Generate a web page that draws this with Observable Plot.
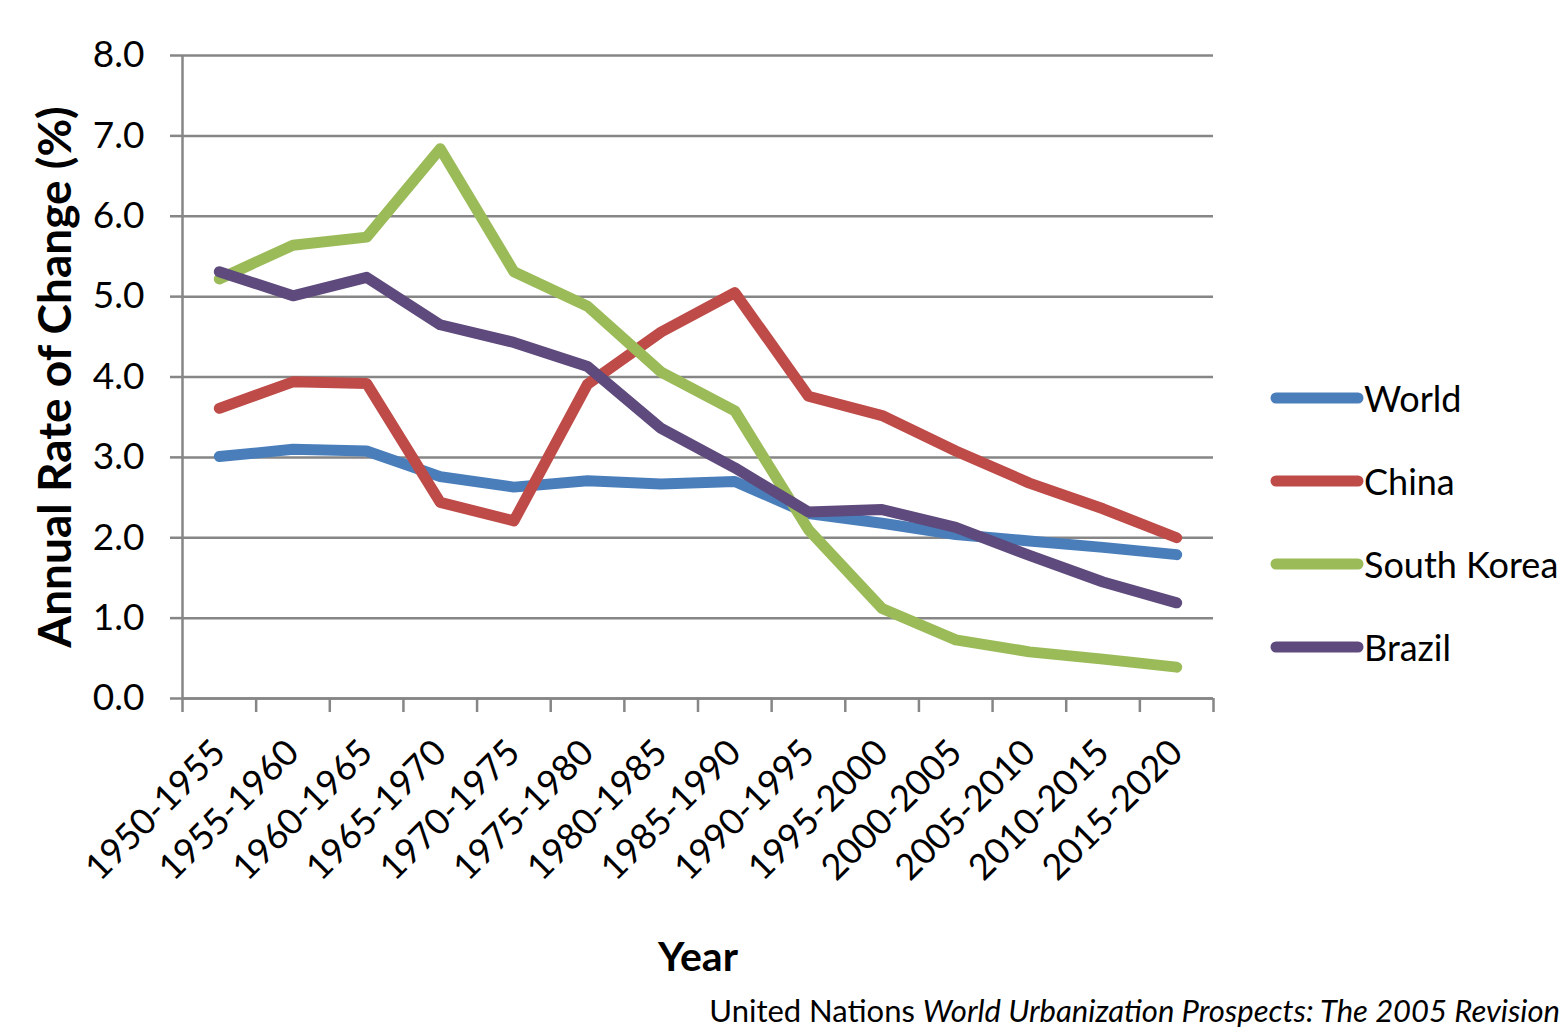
<!DOCTYPE html>
<html><head><meta charset="utf-8">
<script src="https://cdn.jsdelivr.net/npm/d3@7"></script>
<script src="https://cdn.jsdelivr.net/npm/@observablehq/plot@0.6"></script>
<style>
body{margin:0;background:#fff;}
#wrap{position:relative;width:1563px;height:1031px;overflow:hidden;font-family:Lato, sans-serif;background:#fff;}
#wrap > svg{position:absolute;left:0;top:0;}
g[aria-label="y-axis label"] text{font-weight:bold;font-size:46px;}
g[aria-label="x-axis label"] text{font-weight:bold;font-size:41px;}
#legend{position:absolute;left:1266px;top:356px;width:300px;}
.item{display:flex;align-items:center;height:83px;font-size:36px;color:#000;white-space:nowrap;}
.item svg{display:block;flex:none;}
#caption{position:absolute;right:3px;top:993px;font-size:31px;line-height:34px;color:#000;white-space:nowrap;}
</style></head><body><div id="wrap"></div>
<script>
const periods = ["1950-1955","1955-1960","1960-1965","1965-1970","1970-1975","1975-1980","1980-1985","1985-1990","1990-1995","1995-2000","2000-2005","2005-2010","2010-2015","2015-2020"];
const seriesNames = ["World","China","South Korea","Brazil"];
const world      = [3.01,3.10,3.08,2.76,2.63,2.71,2.67,2.70,2.30,2.18,2.04,1.96,1.88,1.79];
const china      = [3.61,3.94,3.92,2.44,2.21,3.91,4.56,5.05,3.76,3.52,3.08,2.68,2.36,2.00];
const southKorea = [5.22,5.64,5.74,6.84,5.31,4.88,4.06,3.58,2.10,1.12,0.73,0.58,0.49,0.39];
const brazil     = [5.31,5.01,5.24,4.65,4.43,4.13,3.36,2.87,2.32,2.35,2.13,1.78,1.45,1.19];
const seriesColors = ["#4a7ebb","#be4b48","#9bbb59","#5e4a7c"];
const yTicks = [0,1,2,3,4,5,6,7,8];
const captionPlain = "United Nations ";
const captionItalic = "World Urbanization Prospects: The 2005 Revision";

const seriesValues = [world, china, southKorea, brazil];
const data = seriesNames.flatMap((name, s) => seriesValues[s].map((v, i) => ({series: name, i, period: periods[i], value: v})));
const n = periods.length;
const gray = "#868686";

const chart = Plot.plot({
  width: 1563, height: 1031,
  marginLeft: 182, marginRight: 350, marginTop: 55, marginBottom: 333,
  style: {fontFamily: "Lato, sans-serif", background: "transparent", color: "#000"},
  x: {type: "linear", domain: [-0.5, n - 0.5]},
  y: {domain: [0, 8]},
  color: {domain: seriesNames, range: seriesColors},
  marks: [
    Plot.gridY(yTicks, {stroke: gray, strokeOpacity: 1, strokeWidth: 2.5}),
    Plot.axisY(yTicks, {tickSize: 12, tickPadding: 26, tickFormat: d => d.toFixed(1), fontSize: 37, stroke: gray, strokeWidth: 2.5, fill: "#000",
      label: "Annual Rate of Change (%)", labelAnchor: "center", labelArrow: "none", labelOffset: 144}),
    Plot.axisX(d3.range(-0.5, n, 1), {tickSize: 14, tickFormat: () => "", stroke: gray, strokeWidth: 2.5, label: null}),
    Plot.axisX(d3.range(n), {tickSize: 0, tickPadding: 48, tickFormat: i => periods[i], tickRotate: -45, fontSize: 36, fill: "#000",
      label: "Year", labelAnchor: "center", labelArrow: "none", labelOffset: 272}),
    Plot.ruleX([-0.5], {stroke: gray, strokeWidth: 2.5}),
    Plot.ruleY([0], {stroke: gray, strokeWidth: 2.5}),
    Plot.line(data, {x: "i", y: "value", z: "series", stroke: "series", strokeWidth: 11, strokeLinejoin: "round", strokeLinecap: "round"})
  ]
});

const wrap = document.getElementById("wrap");
wrap.appendChild(chart);

const legend = document.createElement("div");
legend.id = "legend";
seriesNames.forEach((name, s) => {
  const item = document.createElement("div");
  item.className = "item";
  item.innerHTML = `<svg width="98" height="20"><line x1="10" y1="10" x2="92" y2="10" stroke="${seriesColors[s]}" stroke-width="11" stroke-linecap="round"/></svg><span>${name}</span>`;
  legend.appendChild(item);
});
wrap.appendChild(legend);

const cap = document.createElement("div");
cap.id = "caption";
cap.innerHTML = `${captionPlain}<i>${captionItalic}</i>`;
wrap.appendChild(cap);
</script>
</body></html>
